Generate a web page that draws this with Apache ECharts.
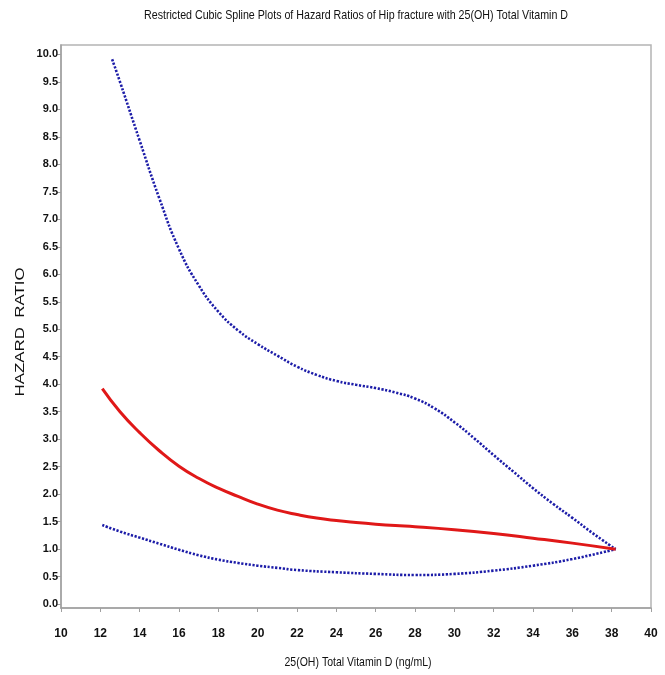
<!DOCTYPE html>
<html>
<head>
<meta charset="utf-8">
<script src="https://cdn.jsdelivr.net/npm/echarts@6/dist/echarts.min.js"></script>
<style>
html,body{margin:0;padding:0;background:#fff;}
#main{width:665px;height:675px;}
</style>
</head>
<body>
<div id="main"></div>
<script>
var titleText = 'Restricted Cubic Spline Plots of Hazard Ratios of Hip fracture with 25(OH) Total Vitamin D';
var xAxisName = '25(OH) Total Vitamin D (ng/mL)';
var yAxisName = 'HAZARD  RATIO';
var yTickValues = [0,0.5,1,1.5,2,2.5,3,3.5,4,4.5,5,5.5,6,6.5,7,7.5,8,8.5,9,9.5,10];

var hrX    = [12.1, 13, 14, 15, 16, 17, 18, 19, 20, 21, 22, 23, 24, 25, 26, 27, 28, 30, 32, 34, 36, 38.2];
var hrY    = [3.92, 3.50, 3.12, 2.79, 2.51, 2.29, 2.11, 1.96, 1.82, 1.71, 1.63, 1.565, 1.52, 1.485, 1.455, 1.43, 1.41, 1.355, 1.285, 1.20, 1.11, 1.00];

var lowerX = [12.1, 13, 14, 15, 16, 17, 18, 19, 20, 21, 22, 24, 26, 28, 30, 32, 34, 36, 38.2];
var lowerY = [1.44, 1.32, 1.21, 1.10, 0.99, 0.89, 0.81, 0.75, 0.70, 0.66, 0.62, 0.58, 0.55, 0.53, 0.55, 0.61, 0.70, 0.82, 1.00];

var upperX = [12.6, 13, 14, 15, 16, 17, 18, 19, 20, 21, 22, 23, 24, 25, 26, 27, 28, 29, 30, 31, 32, 33, 34, 35, 36, 37, 38.2];
var upperY = [9.91, 9.50, 8.43, 7.38, 6.46, 5.80, 5.32, 4.98, 4.73, 4.52, 4.32, 4.17, 4.06, 3.99, 3.93, 3.85, 3.74, 3.56, 3.31, 3.02, 2.71, 2.41, 2.11, 1.83, 1.57, 1.30, 1.00];

function pairs(xs, ys){ return xs.map(function(x,i){ return [x, ys[i]]; }); }

var sans = "'Liberation Sans', Arial, sans-serif";
var ctx = document.createElement('canvas').getContext('2d');
function fitScale(text, font, target){
  ctx.font = font;
  return target / ctx.measureText(text).width;
}
var titleFont = "13px 'Liberation Sans', Arial, sans-serif";
var xNameFont = "13px 'Liberation Sans', Arial, sans-serif";
var yNameFont = "12px 'Liberation Sans', Arial, sans-serif";

var chart = echarts.init(document.getElementById('main'), null, {renderer:'canvas'});
chart.setOption({
  animation:false,
  backgroundColor:'#fff',
  graphic:[
    {type:'text', x:356, y:15, scaleX:fitScale(titleText, titleFont, 424),
      style:{text:titleText, font:titleFont, fill:'#111', align:'center', verticalAlign:'middle'}},
    {type:'text', x:358, y:662, scaleX:fitScale(xAxisName, xNameFont, 147),
      style:{text:xAxisName, font:xNameFont, fill:'#111', align:'center', verticalAlign:'middle'}},
    {type:'text', x:21, y:332, rotation:Math.PI/2, scaleX:fitScale(yAxisName, yNameFont, 129),
      style:{text:yAxisName, font:yNameFont, fill:'#111', align:'center', verticalAlign:'middle'}}
  ],
  grid:{left:61, right:14, top:45, bottom:67, outerBoundsMode:'none', containLabel:false,
    show:true, borderColor:'#b4b4b4', borderWidth:1.5, backgroundColor:'transparent'},
  xAxis:{
    type:'value', min:10, max:40, interval:2,
    axisLine:{show:true, onZero:false, lineStyle:{color:'#a0a0a0', width:1.5}},
    axisTick:{show:true, length:4, lineStyle:{color:'#a0a0a0'}},
    axisLabel:{fontFamily:sans, fontSize:12, fontWeight:'bold', color:'#111', margin:20},
    splitLine:{show:false}
  },
  yAxis:{
    type:'value', min:-0.07, max:10.17,
    axisLine:{show:true, lineStyle:{color:'#a0a0a0', width:1.5}},
    axisTick:{show:true, length:4, customValues:yTickValues, lineStyle:{color:'#a0a0a0'}},
    axisLabel:{fontFamily:sans, fontSize:11, fontWeight:'bold', color:'#111', margin:3, customValues:yTickValues,
      formatter:function(v){ return v.toFixed(1); }},
    splitLine:{show:false}
  },
  series:[
    {type:'line', name:'Upper CI', data:pairs(upperX, upperY), smooth:true, showSymbol:false,
      lineStyle:{color:'#1c1ca8', width:2.6, type:[2.2,1.6]}, z:2},
    {type:'line', name:'Lower CI', data:pairs(lowerX, lowerY), smooth:true, showSymbol:false,
      lineStyle:{color:'#1c1ca8', width:2.6, type:[2.2,1.6]}, z:2},
    {type:'line', name:'Hazard Ratio', data:pairs(hrX, hrY), smooth:true, showSymbol:false,
      lineStyle:{color:'#e01818', width:3}, z:3}
  ]
});
</script>
</body>
</html>
